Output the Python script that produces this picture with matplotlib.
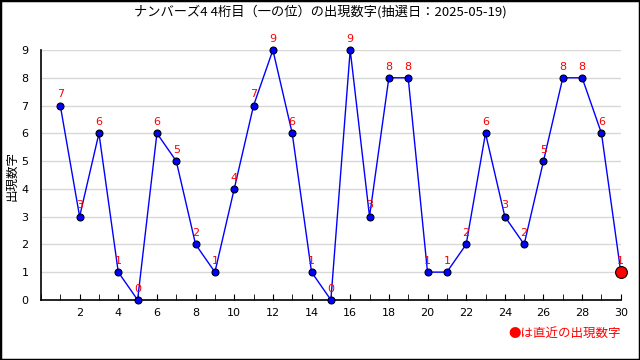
import matplotlib.pyplot as plt
from matplotlib.patches import Rectangle
from matplotlib.ticker import FixedLocator, MultipleLocator

plt.rcParams["font.family"] = ["DejaVu Sans", "Noto Sans CJK JP"]

# draw numbers (oldest -> latest)
draws = list(range(1, 31))
digits = [7, 3, 6, 1, 0, 6, 5, 2, 1, 4, 7, 9, 6, 1, 0,
          9, 3, 8, 8, 1, 1, 2, 6, 3, 2, 5, 8, 8, 6, 1]
xticks = list(range(2, 31, 2))
title = "ナンバーズ4 4桁目（一の位）の出現数字(抽選日：2025-05-19)"

fig = plt.figure(figsize=(6.4, 3.6), dpi=100)
ax = fig.add_axes([0.064, 0.167, 0.906, 0.694])

ax.plot(draws, digits, color="#0000ff", lw=1, marker="o", ms=5,
        mfc="#0000ff", mec="black", mew=0.8, zorder=3, clip_on=False)
ax.plot(draws[-1], digits[-1], "o", ms=8.5, mfc="red", mec="black",
        mew=0.8, zorder=4, clip_on=False)
for x, y in zip(draws, digits):
    ax.annotate(str(y), (x, y), xytext=(0, 4.5), textcoords="offset points",
                ha="center", va="bottom", color="red", fontsize=8, zorder=5)

ax.set_xlim(0, 30)
ax.set_ylim(0, 9)
ax.xaxis.set_major_locator(FixedLocator(xticks))
ax.xaxis.set_minor_locator(MultipleLocator(1))
ax.yaxis.set_major_locator(MultipleLocator(1))
ax.tick_params(axis="x", which="both", direction="in", length=4, labelsize=8, pad=6)
ax.tick_params(axis="y", length=0, labelsize=8, pad=9)
ax.grid(axis="y", color="#d8d8d8", lw=1)
ax.set_axisbelow(True)
for s in ("top", "right"):
    ax.spines[s].set_visible(False)
ax.spines["left"].set_linewidth(1.2)
ax.spines["bottom"].set_linewidth(1.2)

fig.text(0.019, 0.51, "出現数字", rotation=90, ha="center", va="center",
         fontsize=9, family=["Noto Sans CJK JP"])
fig.text(0.5, 0.967, title, ha="center", va="center", fontsize=9.5,
         family=["Noto Sans CJK JP", "DejaVu Sans"])
fig.text(0.97, 0.075, "●は直近の出現数字", ha="right", va="center",
         color="red", fontsize=9, family=["Noto Sans CJK JP", "DejaVu Sans"])

fig.patches.append(Rectangle((0, 0), 1, 1, transform=fig.transFigure,
                             fill=False, ec="black", lw=2.5))

fig.savefig("out.png", dpi=100)
